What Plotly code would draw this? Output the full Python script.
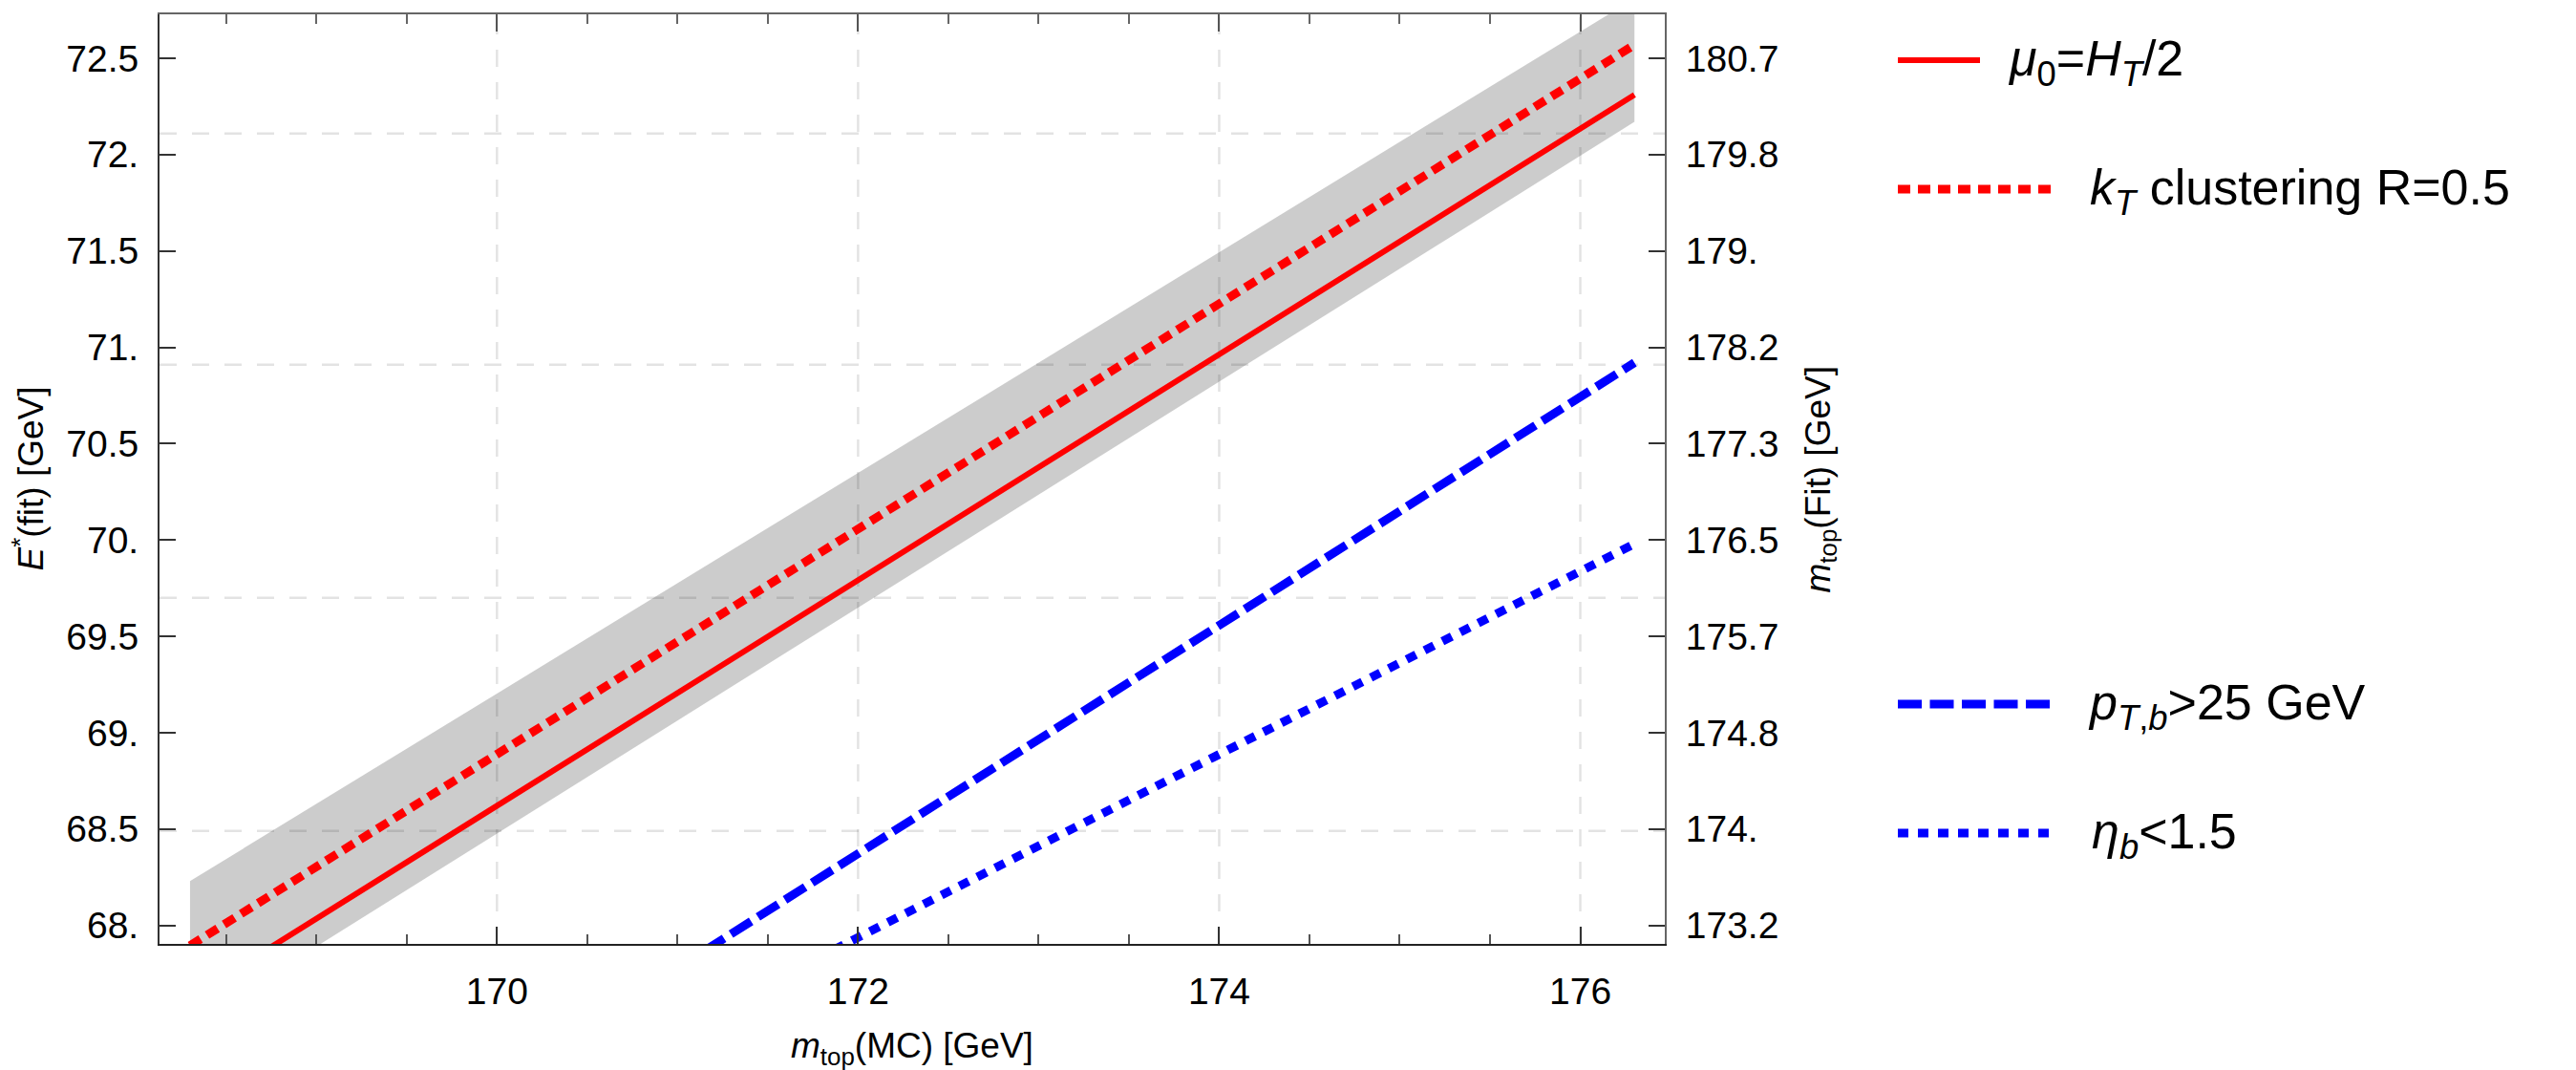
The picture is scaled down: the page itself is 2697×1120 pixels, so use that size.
import plotly.graph_objects as go

# ---------------- data ----------------
m_mc = [168.3, 176.3]                 # m_top(MC) [GeV], line end points
e_central = [67.625, 72.31]           # mu0 = HT/2
e_kt = [67.895, 72.57]                # kT clustering R=0.5
e_ptb = [66.18, 70.92]                # pT,b > 25 GeV
e_etab = [66.18, 69.98]               # eta_b < 1.5
band_upper = [68.23, 72.81]           # scale band
band_lower = [67.48, 72.17]

x_range = [168.131, 176.468]
y_range = [67.904, 72.728]

x_tickvals = [170, 172, 174, 176]
x_ticktext = ["170", "172", "174", "176"]
y_tickvals = [68.0, 68.5, 69.0, 69.5, 70.0, 70.5, 71.0, 71.5, 72.0, 72.5]
y_ticktext = ["68.", "68.5", "69.", "69.5", "70.", "70.5", "71.", "71.5", "72.", "72.5"]
y2_ticktext = ["173.2", "174.", "174.8", "175.7", "176.5", "177.3", "178.2", "179.", "179.8", "180.7"]
x_grid = [170, 172, 174, 176]
y_grid = [68.49, 69.70, 70.91, 72.11]   # m_top(Fit) = 174, 176, 178, 180

legend_labels = [
    "<i>μ</i><sub>0</sub>=<i>H</i><sub><i>T</i></sub>/2",
    "<i>k</i><sub><i>T</i></sub> clustering R=0.5",
    "<i>p</i><sub><i>T</i>,<i>b</i></sub>&gt;25 GeV",
    "<i>η</i><sub><i>b</i></sub>&lt;1.5",
]

# ---------------- geometry ----------------
W, H = 2697, 1120
L, R, T, B = 167, 1743, 15, 988
FONT = "Liberation Sans, Arial, sans-serif"

def px(xp):
    return (xp - L) / (R - L)

def py(yp):
    return (B - yp) / (B - T)

RED = "rgb(255,0,0)"
BLUE = "rgb(0,0,255)"

fig = go.Figure()

# scale band
fig.add_trace(go.Scatter(
    x=m_mc + m_mc[::-1], y=band_upper + band_lower[::-1],
    fill="toself", fillcolor="rgba(0,0,0,0.2)", line=dict(width=0),
    mode="lines", showlegend=False, hoverinfo="skip"))

fig.add_trace(go.Scatter(x=m_mc, y=e_central, mode="lines",
                         line=dict(color=RED, width=6), showlegend=False))
fig.add_trace(go.Scatter(x=m_mc, y=e_kt, mode="lines",
                         line=dict(color=RED, width=9, dash="13px,8px"), showlegend=False))
fig.add_trace(go.Scatter(x=m_mc, y=e_ptb, mode="lines",
                         line=dict(color=BLUE, width=9, dash="25px,8.5px"), showlegend=False))
fig.add_trace(go.Scatter(x=m_mc, y=e_etab, mode="lines",
                         line=dict(color=BLUE, width=9, dash="11px,10px"), showlegend=False))
# invisible trace for secondary axes
fig.add_trace(go.Scatter(x=[x_range[0]], y=[y_range[0]], xaxis="x2", yaxis="y2",
                         mode="markers", marker=dict(opacity=0), showlegend=False,
                         hoverinfo="skip"))

shapes = []
grid_line = dict(color="rgba(0,0,0,0.11)", width=2.5, dash="18px,16px")
for v in x_grid:
    shapes.append(dict(type="line", xref="x", yref="y domain", x0=v, x1=v, y0=0, y1=1,
                       line=grid_line, layer="below"))
for v in y_grid:
    shapes.append(dict(type="line", xref="x domain", yref="y", x0=0, x1=1, y0=v, y1=v,
                       line=grid_line, layer="below"))

# legend swatches
leg_styles = [
    dict(color=RED, width=6, dash="solid"),
    dict(color=RED, width=9, dash="13px,8px"),
    dict(color=BLUE, width=9, dash="25px,8.5px"),
    dict(color=BLUE, width=9, dash="11px,10px"),
]
leg_y = [63, 198, 737, 872]
leg_x1 = [2073, 2149, 2149, 2149]
leg_tx = [2100, 2186, 2184, 2188]
annotations = []
for st, yy, x1, tx, lab in zip(leg_styles, leg_y, leg_x1, leg_tx, legend_labels):
    shapes.append(dict(type="line", xref="paper", yref="paper",
                       x0=px(1987), x1=px(x1), y0=py(yy), y1=py(yy), line=st))
    annotations.append(dict(text=lab, xref="paper", yref="paper", x=px(tx), y=py(yy + 2),
                            xanchor="left", yanchor="middle", showarrow=False,
                            font=dict(size=52, color="black", family=FONT)))

# axis titles
annotations.append(dict(text="<i>m</i><sub>top</sub>(MC) [GeV]", xref="paper", yref="paper",
                        x=0.5, y=py(1097), xanchor="center", yanchor="middle", showarrow=False,
                        font=dict(size=37, color="black", family=FONT)))
annotations.append(dict(text="<i>E</i><sup>*</sup>(fit) [GeV]", xref="paper", yref="paper",
                        x=px(30), y=0.5, xanchor="center", yanchor="middle", showarrow=False,
                        textangle=-90, font=dict(size=37, color="black", family=FONT)))
annotations.append(dict(text="<i>m</i><sub>top</sub>(Fit) [GeV]", xref="paper", yref="paper",
                        x=px(1905), y=0.5, xanchor="center", yanchor="middle", showarrow=False,
                        textangle=-90, font=dict(size=37, color="black", family=FONT)))

tickfont = dict(size=39, color="black", family=FONT)
fig.update_layout(
    width=W, height=H,
    margin=dict(l=L, r=W - R, t=T, b=H - B, pad=0),
    paper_bgcolor="white", plot_bgcolor="white",
    showlegend=False,
    xaxis=dict(range=x_range, tickmode="array", tickvals=x_tickvals, ticktext=x_ticktext,
               ticks="inside", ticklen=18, tickwidth=2, tickcolor="#333",
               showline=True, linecolor="#222", linewidth=2, showgrid=False, zeroline=False,
               tickfont=tickfont, ticklabelstandoff=14,
               minor=dict(tickmode="linear", tick0=170, dtick=0.5, ticks="inside",
                          ticklen=10, tickwidth=2, tickcolor="#555", showgrid=False)),
    xaxis2=dict(range=x_range, overlaying="x", side="top", tickmode="array",
                tickvals=x_tickvals, showticklabels=False,
                ticks="inside", ticklen=18, tickwidth=2, tickcolor="#555",
                showline=True, linecolor="#666", linewidth=2, showgrid=False, zeroline=False,
                minor=dict(tickmode="linear", tick0=170, dtick=0.5, ticks="inside",
                           ticklen=10, tickwidth=2, tickcolor="#666", showgrid=False)),
    yaxis=dict(range=y_range, tickmode="array", tickvals=y_tickvals, ticktext=y_ticktext,
               ticks="inside", ticklen=17, tickwidth=2, tickcolor="#333",
               showline=True, linecolor="#333", linewidth=2, showgrid=False, zeroline=False,
               tickfont=tickfont, ticklabelstandoff=12),
    yaxis2=dict(range=y_range, overlaying="y", side="right", tickmode="array",
                tickvals=y_tickvals, ticktext=y2_ticktext,
                ticks="inside", ticklen=17, tickwidth=2, tickcolor="#333",
                showline=True, linecolor="#666", linewidth=2, showgrid=False, zeroline=False,
                tickfont=tickfont, ticklabelstandoff=12),
    shapes=shapes,
    annotations=annotations,
)

fig.write_html("out.html")
